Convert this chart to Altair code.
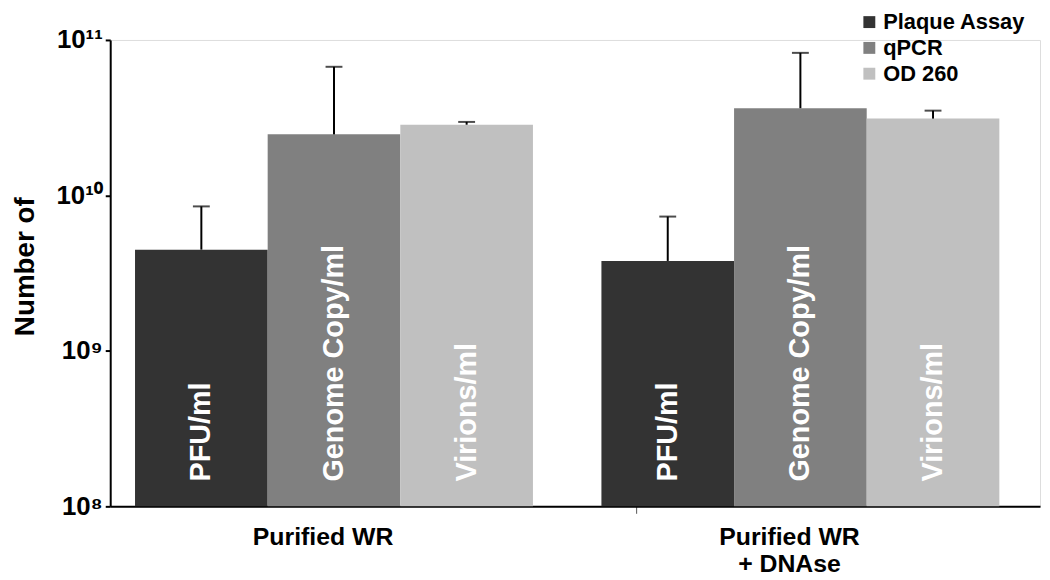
import altair as alt
import pandas as pd

FONT = "Liberation Sans, Arial, sans-serif"

groups = ["Purified WR", "Purified WR + DNAse"]
series = ["Plaque Assay", "qPCR", "OD 260"]
units = ["PFU/ml", "Genome Copy/ml", "Virions/ml"]
colors = ["#333333", "#808080", "#c0c0c0"]

values_wr = [4.48e9, 2.47e10, 2.85e10]
upper_wr = [8.5e9, 6.72e10, 2.97e10]
values_dn = [3.79e9, 3.64e10, 3.12e10]
upper_dn = [7.31e9, 8.26e10, 3.51e10]

rows = []
for g, vals, ups in [(groups[0], values_wr, upper_wr), (groups[1], values_dn, upper_dn)]:
    for s, u, v, up in zip(series, units, vals, ups):
        rows.append({"group": g, "series": s, "unit": u, "value": v, "upper": up, "base": 1e8})
df = pd.DataFrame(rows)

yscale = alt.Scale(type="log", domain=[1e8, 1e11])
x_enc = alt.X(
    "group:N",
    sort=groups,
    scale=alt.Scale(paddingInner=0.1468, paddingOuter=0.0702, align=0.379),
    axis=alt.Axis(
        title=None,
        labelAngle=0,
        labelFont=FONT,
        labelFontSize=25,
        labelFontWeight="bold",
        labelColor="black",
        labelLineHeight=28,
        labelPadding=11,
        labelExpr="datum.value == 'Purified WR + DNAse' ? ['Purified WR', '+ DNAse'] : datum.label",
        bandPosition=1.26,
        labelOffset=-11,
        tickColor="#555555",
        tickWidth=1,
        tickSize=7,
        domainColor="black",
        domainWidth=2,
    ),
)
xo_enc = alt.XOffset("series:N", sort=series, scale=alt.Scale(paddingInner=0, paddingOuter=0))

y_axis = alt.Axis(
    title="Number of",
    titleFont=FONT,
    titleFontSize=28,
    titleFontWeight="bold",
    titleColor="black",
    titleAngle=270,
    titleAlign="center",
    titleBaseline="middle",
    titleX=-85,
    titleY=228,
    values=[1e8, 1e9, 1e10, 1e11],
    labelExpr="datum.value > 5e10 ? '10\u00b9\u00b9' : datum.value > 5e9 ? '10\u00b9\u2070' : datum.value > 5e8 ? '10\u2079' : '10\u2078'",
    labelFont=FONT,
    labelFontSize=26,
    labelFontWeight="bold",
    labelColor="black",
    labelPadding=3,
    tickColor="black",
    tickWidth=2,
    tickSize=5,
    domainColor="black",
    domainWidth=2,
    grid=False,
)

base = alt.Chart(df)

bars = base.mark_bar().encode(
    x=x_enc,
    xOffset=xo_enc,
    y=alt.Y("value:Q", scale=yscale, axis=y_axis),
    y2="base:Q",
    color=alt.Color(
        "series:N",
        sort=series,
        scale=alt.Scale(domain=series, range=colors),
        legend=alt.Legend(
            title=None,
            orient="none",
            legendX=754,
            legendY=-29,
            symbolType="square",
            symbolSize=144,
            symbolStrokeWidth=0,
            labelFont=FONT,
            labelFontSize=22,
            labelFontWeight="bold",
            labelColor="black",
            labelOffset=3,
            rowPadding=4,
        ),
    ),
)

labels = base.mark_text(
    angle=270, align="left", baseline="middle", dx=25,
    color="white", font=FONT, fontSize=29, fontWeight="bold",
).encode(
    x=x_enc,
    xOffset=xo_enc,
    y=alt.Y("base:Q", scale=yscale),
    text="unit:N",
)

err = base.mark_rule(color="black", strokeWidth=2).encode(
    x=x_enc,
    xOffset=xo_enc,
    y=alt.Y("value:Q", scale=yscale),
    y2="upper:Q",
)

caps = base.mark_tick(color="black", thickness=2, size=17, orient="horizontal").encode(
    x=x_enc,
    xOffset=xo_enc,
    y=alt.Y("upper:Q", scale=yscale),
)

chart = alt.layer(bars, labels, err, caps).properties(
    width=937,
    height=470,
    padding={"left": 103, "top": 30, "right": 2, "bottom": 70},
    autosize=alt.AutoSizeParams(type="none"),
).configure_view(stroke=None).configure(background="white")

chart.save("out.html", embed_options={"renderer": "svg", "actions": False})
